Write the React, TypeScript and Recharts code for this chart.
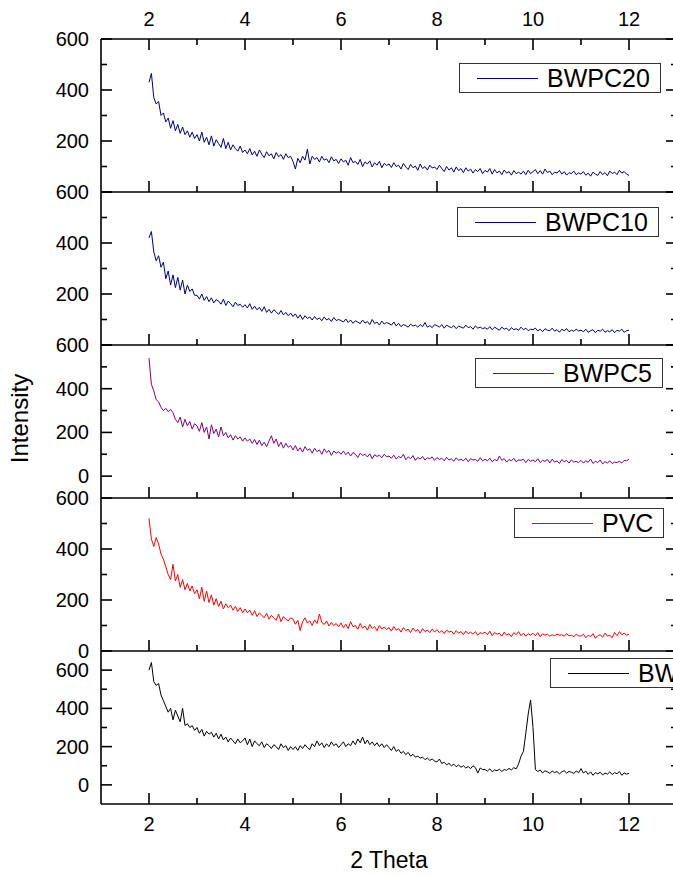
import React from 'react';
import { LineChart, Line, XAxis, YAxis } from 'recharts';

// 2-theta scan positions (deg)
const THETA = [
  2, 2.05, 2.1, 2.15, 2.2, 2.25, 2.3, 2.35, 2.4, 2.45, 2.5, 2.55, 2.6, 2.65, 2.7, 2.75, 2.8, 2.85, 2.9, 2.95,
  3, 3.05, 3.1, 3.15, 3.2, 3.25, 3.3, 3.35, 3.4, 3.45, 3.5, 3.55, 3.6, 3.65, 3.7, 3.75, 3.8, 3.85, 3.9, 3.95,
  4, 4.05, 4.1, 4.15, 4.2, 4.25, 4.3, 4.35, 4.4, 4.45, 4.5, 4.55, 4.6, 4.65, 4.7, 4.75, 4.8, 4.85, 4.9, 4.95,
  5, 5.05, 5.1, 5.15, 5.2, 5.25, 5.3, 5.35, 5.4, 5.45, 5.5, 5.55, 5.6, 5.65, 5.7, 5.75, 5.8, 5.85, 5.9, 5.95,
  6, 6.05, 6.1, 6.15, 6.2, 6.25, 6.3, 6.35, 6.4, 6.45, 6.5, 6.55, 6.6, 6.65, 6.7, 6.75, 6.8, 6.85, 6.9, 6.95,
  7, 7.05, 7.1, 7.15, 7.2, 7.25, 7.3, 7.35, 7.4, 7.45, 7.5, 7.55, 7.6, 7.65, 7.7, 7.75, 7.8, 7.85, 7.9, 7.95,
  8, 8.05, 8.1, 8.15, 8.2, 8.25, 8.3, 8.35, 8.4, 8.45, 8.5, 8.55, 8.6, 8.65, 8.7, 8.75, 8.8, 8.85, 8.9, 8.95,
  9, 9.05, 9.1, 9.15, 9.2, 9.25, 9.3, 9.35, 9.4, 9.45, 9.5, 9.55, 9.6, 9.65, 9.7, 9.75, 9.8, 9.85, 9.9, 9.95,
  10, 10.05, 10.1, 10.15, 10.2, 10.25, 10.3, 10.35, 10.4, 10.45, 10.5, 10.55, 10.6, 10.65, 10.7, 10.75, 10.8, 10.85, 10.9, 10.95,
  11, 11.05, 11.1, 11.15, 11.2, 11.25, 11.3, 11.35, 11.4, 11.45, 11.5, 11.55, 11.6, 11.65, 11.7, 11.75, 11.8, 11.85, 11.9, 11.95,
  12,
];

const BWPC20 = [
  430, 465, 370, 345, 355, 300, 310, 275, 290, 250, 280, 240, 265, 230, 255, 225, 240, 215, 235, 210,
  225, 200, 235, 195, 215, 185, 220, 180, 205, 190, 175, 210, 170, 195, 165, 185, 170, 160, 180, 155,
  165, 150, 170, 145, 160, 140, 165, 148, 135, 158, 142, 150, 130, 155, 138, 147, 128, 150, 135, 140,
  120, 90, 132, 115, 140, 125, 168, 110, 140, 128, 135, 118, 140, 125, 130, 115, 138, 122, 128, 112,
  130, 118, 125, 105, 135, 115, 120, 108, 128, 100, 118, 110, 122, 98, 115, 105, 120, 95, 112, 104,
  110, 96, 115, 100, 105, 90, 112, 98, 88, 108, 95, 102, 85, 110, 92, 100, 86, 105, 94, 98,
  88, 105, 92, 80, 100, 86, 95, 78, 98, 84, 92, 76, 95, 82, 90, 74, 88, 80, 92, 72,
  85, 78, 92, 70, 88, 75, 82, 68, 86, 74, 80, 66, 84, 72, 78, 70, 82, 68, 85, 72,
  80, 88, 72, 84, 70, 90, 76, 82, 68, 78, 74, 85, 70, 80, 66, 76, 72, 82, 68, 75,
  70, 80, 66, 74, 62, 78, 70, 65, 80, 68, 76, 64, 82, 72, 78, 68, 85, 74, 80, 70,
  65,
];

const BWPC10 = [
  420, 445, 365, 330, 350, 305, 325, 260, 290, 235, 275, 225, 265, 215, 255, 200, 235, 210, 220, 195,
  195, 180, 200, 175, 190, 170, 185, 165, 178, 172, 160, 180, 155, 172, 162, 150, 168, 155, 160, 148,
  158, 145, 162, 140, 152, 138, 148, 132, 150, 128, 140, 125, 138, 130, 120, 135, 118, 128, 115, 125,
  112, 122, 105, 118, 100, 115, 104, 110, 98, 112, 100, 106, 95, 110, 98, 104, 92, 108, 96, 100,
  96, 90, 102, 88, 98, 85, 95, 90, 84, 98, 86, 92, 80, 100, 84, 90, 78, 94, 82, 88,
  84, 78, 90, 75, 85, 72, 80, 76, 70, 82, 74, 78, 70, 80, 72, 88, 70, 76, 68, 80,
  76, 70, 80, 66, 78, 72, 68, 76, 64, 74, 70, 66, 78, 68, 72, 62, 75, 66, 70, 64,
  68, 62, 72, 60, 70, 64, 58, 70, 62, 66, 56, 68, 60, 64, 58, 70, 60, 66, 56, 62,
  60, 66, 55, 62, 52, 64, 58, 56, 66, 54, 60, 50, 62, 56, 64, 52, 58, 54, 62, 55,
  58, 52, 62, 50, 56, 60, 48, 58, 54, 62, 50, 56, 52, 60, 48, 58, 54, 62, 50, 56,
  58,
];

const BWPC5 = [
  540, 420, 390, 350, 340, 315, 300, 310, 295, 305, 290, 260, 245, 270, 225, 260, 230, 250, 215, 240,
  230, 205, 245, 200, 225, 170, 235, 195, 215, 180, 225, 185, 200, 175, 190, 165, 185, 170, 180, 160,
  175, 160, 170, 150, 168, 145, 165, 140, 155, 135, 160, 185, 150, 170, 135, 155, 128, 150, 132, 140,
  120, 140, 115, 130, 110, 135, 118, 125, 105, 128, 112, 120, 100, 125, 108, 118, 95, 115, 105, 112,
  100, 115, 98, 110, 92, 108, 100, 85, 105, 95, 100, 88, 102, 80, 98, 90, 96, 84, 100, 88,
  92, 82, 96, 78, 90, 84, 100, 75, 88, 80, 94, 72, 86, 78, 90, 74, 84, 80, 88, 72,
  85, 76, 82, 70, 86, 74, 80, 68, 84, 72, 78, 70, 82, 66, 80, 74, 76, 68, 84, 70,
  78, 70, 82, 66, 76, 70, 92, 72, 80, 64, 76, 70, 82, 66, 74, 72, 78, 62, 76, 68,
  74, 66, 80, 62, 72, 68, 76, 60, 78, 64, 70, 58, 76, 66, 72, 60, 74, 64, 68, 62,
  72, 60, 70, 64, 78, 58, 68, 62, 74, 56, 66, 60, 70, 58, 64, 62, 68, 60, 72, 70,
  78,
];

const PVC = [
  520, 440, 410, 445, 420, 380, 360, 330, 300, 280, 340, 275, 300, 250, 280, 240, 265, 235, 255, 225,
  240, 205, 250, 195, 235, 190, 220, 180, 205, 175, 195, 165, 185, 170, 180, 160, 175, 155, 170, 150,
  165, 150, 160, 140, 158, 135, 150, 140, 130, 148, 125, 140, 130, 120, 145, 115, 135, 125, 118, 130,
  125, 105, 120, 80, 115, 130, 110, 118, 100, 122, 108, 145, 112, 104, 118, 98, 112, 100, 108, 95,
  110, 92, 105, 88, 115, 95, 100, 85, 108, 90, 98, 82, 104, 88, 96, 80, 100, 86, 94, 84,
  92, 78, 96, 82, 88, 74, 92, 80, 86, 72, 90, 78, 84, 70, 88, 76, 82, 72, 86, 74,
  84, 72, 80, 68, 82, 74, 78, 66, 80, 70, 76, 64, 78, 68, 74, 66, 76, 62, 72, 68,
  74, 64, 78, 60, 72, 66, 70, 58, 74, 62, 68, 56, 72, 64, 76, 60, 70, 58, 68, 62,
  70, 60, 72, 56, 68, 62, 66, 58, 64, 60, 66, 62, 64, 58, 68, 60, 62, 56, 66, 60,
  58, 66, 52, 62, 56, 68, 50, 60, 64, 54, 70, 58, 62, 52, 72, 60, 76, 64, 70, 62,
  66,
];

const BW = [
  600, 640, 540, 520, 530, 470, 440, 410, 380, 400, 340, 390, 360, 330, 400, 310, 320, 300, 310, 285,
  300, 270, 290, 255, 280, 265, 275, 250, 270, 240, 265, 235, 250, 225, 245, 230, 215, 240, 220, 230,
  245, 210, 240, 200, 230, 215, 205, 225, 195, 215, 205, 190, 210, 200, 185, 215, 195, 205, 180, 200,
  185, 200, 180, 205, 190, 210, 195, 185, 215, 200, 230, 205, 220, 195, 215, 200, 225, 205, 215, 195,
  210, 225, 200, 215, 205, 230, 210, 240, 220, 250, 215, 235, 210, 225, 205, 220, 200, 215, 195, 210,
  195, 180, 200, 175, 185, 165, 175, 158, 170, 150, 160, 145, 150, 140, 145, 132, 140, 128, 135, 125,
  120, 135, 112, 118, 105, 112, 100, 108, 95, 104, 92, 100, 88, 96, 85, 100, 90, 62, 88, 80,
  80, 72, 84, 68, 78, 74, 82, 70, 80, 76, 86, 78, 90, 84, 110, 150, 175, 270, 370, 444,
  300, 80, 70, 78, 62, 74, 68, 60, 72, 64, 70, 58, 68, 74, 62, 70, 66, 60, 72, 64,
  85, 62, 72, 55, 68, 50, 64, 58, 66, 52, 62, 56, 68, 54, 64, 58, 70, 50, 62, 56,
  60,
];

const X_TICKS = [2, 3, 4, 5, 6, 7, 8, 9, 10, 11, 12];
const Y_TICKS = [0, 100, 200, 300, 400, 500, 600];

const FONT = '"Liberation Sans", Arial, Helvetica, sans-serif';
const PLOT_R = 677; // right frame (just off the picture)
const PANEL_H = 153;
const CHART_W = 700;
const AXIS = { stroke: '#000', strokeWidth: 1.6 };

type Panel = {
  name: string;
  values: number[];
  color: string;
  domain: [number, number];
  labels: number[];
  top: number;
  legend: { left: number; top: number };
};

const PANELS: Panel[] = [
  { name: 'BWPC20', values: BWPC20, color: '#000080', domain: [0, 600], labels: [200, 400, 600], top: 39, legend: { left: 459, top: 63 } },
  { name: 'BWPC10', values: BWPC10, color: '#000080', domain: [0, 600], labels: [200, 400, 600], top: 192, legend: { left: 457, top: 207 } },
  { name: 'BWPC5', values: BWPC5, color: '#800080', domain: [-100, 600], labels: [0, 200, 400, 600], top: 345, legend: { left: 475, top: 358 } },
  { name: 'PVC', values: PVC, color: '#ff0000', domain: [0, 600], labels: [0, 200, 400, 600], top: 498, legend: { left: 514, top: 508 } },
  { name: 'BW', values: BW, color: '#000000', domain: [-100, 700], labels: [0, 200, 400, 600], top: 651, legend: { left: 550, top: 658 } },
];

// inward ticks: major 11px, minor 6px
const xTick = (side: 'top' | 'bottom', showLabel: boolean) => (props: any) => {
  const { x, y, payload } = props;
  const major = payload.value % 2 === 0;
  const len = major ? 11 : 6;
  const dir = side === 'top' ? 1 : -1;
  return (
    <g>
      <line x1={x} x2={x} y1={y} y2={y + dir * len} stroke="#000" strokeWidth={1.6} />
      {showLabel && major && (
        <text x={x} y={side === 'top' ? y - 20 : y + 20} textAnchor="middle" dominantBaseline="central" fontSize={20} fill="#000">
          {payload.value}
        </text>
      )}
    </g>
  );
};

const yTick = (labels: number[]) => (props: any) => {
  const { x, y, payload } = props;
  const major = payload.value % 200 === 0;
  const len = major ? 11 : 6;
  return (
    <g>
      <line x1={x} x2={x + len} y1={y} y2={y} stroke="#000" strokeWidth={1.6} />
      <line x1={PLOT_R - len} x2={PLOT_R} y1={y} y2={y} stroke="#000" strokeWidth={1.6} />
      {labels.includes(payload.value) && (
        <text x={x - 12} y={y} textAnchor="end" dominantBaseline="central" fontSize={20} fill="#000">
          {payload.value}
        </text>
      )}
    </g>
  );
};

const intensityLabel = (props: any) => {
  const vb = props.viewBox;
  const cy = vb.y + vb.height / 2 - 3;
  return (
    <text x={28} y={cy} transform={`rotate(-90 28 ${cy})`} textAnchor="middle" fontSize={24} fill="#000">
      Intensity
    </text>
  );
};

const PanelChart = ({ panel, index }: { panel: Panel; index: number }) => {
  const first = index === 0;
  const last = index === PANELS.length - 1;
  const topSpace = first ? 39 : 16;
  const bottomSpace = last ? 70 : 16;
  const data = THETA.map((t, i) => ({ theta: t, v: panel.values[i] }));
  return (
    <div style={{ position: 'absolute', left: 0, top: panel.top - topSpace }}>
      <LineChart
        width={CHART_W}
        height={topSpace + PANEL_H + bottomSpace}
        data={data}
        margin={{ top: first ? 0 : 16, right: CHART_W - PLOT_R, bottom: 0, left: 0 }}
      >
        <XAxis
          xAxisId="b"
          type="number"
          dataKey="theta"
          domain={[1, 13]}
          allowDataOverflow
          ticks={X_TICKS}
          interval={0}
          height={bottomSpace}
          tickSize={0}
          tickMargin={0}
          tickLine={false}
          axisLine={AXIS}
          tick={xTick('bottom', last)}
          label={last ? { value: '2 Theta', position: 'insideBottom', offset: 6, fontSize: 23, fill: '#000' } : undefined}
        />
        {first && (
          <XAxis
            xAxisId="t"
            orientation="top"
            type="number"
            dataKey="theta"
            domain={[1, 13]}
            allowDataOverflow
            ticks={X_TICKS}
            interval={0}
            height={39}
            tickSize={0}
            tickMargin={0}
            tickLine={false}
            axisLine={AXIS}
            tick={xTick('top', true)}
          />
        )}
        <YAxis
          type="number"
          domain={panel.domain}
          allowDataOverflow
          ticks={Y_TICKS}
          interval={0}
          width={101}
          tickSize={0}
          tickMargin={0}
          tickLine={false}
          axisLine={AXIS}
          tick={yTick(panel.labels)}
          label={index === 2 ? { value: 'Intensity', content: intensityLabel } : undefined}
        />
        <Line
          xAxisId="b"
          type="linear"
          dataKey="v"
          stroke={panel.color}
          strokeWidth={1}
          dot={false}
          isAnimationActive={false}
        />
      </LineChart>
    </div>
  );
};

const LegendBox = ({ panel }: { panel: Panel }) => (
  <div
    style={{
      position: 'absolute',
      left: panel.legend.left,
      top: panel.legend.top,
      height: 30,
      boxSizing: 'border-box',
      border: '1px solid #333',
      background: '#fff',
      display: 'flex',
      alignItems: 'center',
      paddingLeft: 17,
      paddingRight: 10,
      whiteSpace: 'nowrap',
    }}
  >
    <span style={{ display: 'inline-block', width: 61, borderTop: `1px solid ${panel.color}`, marginRight: 9 }} />
    <span style={{ fontSize: 25, lineHeight: '30px' }}>{panel.name}</span>
  </div>
);

export default function App() {
  return (
    <div
      style={{
        position: 'absolute',
        left: 0,
        top: 0,
        width: 673,
        height: 874,
        overflow: 'hidden',
        background: '#fff',
        fontFamily: FONT,
        color: '#000',
      }}
    >
      {PANELS.map((p, i) => (
        <PanelChart key={p.name} panel={p} index={i} />
      ))}
      {PANELS.map((p) => (
        <LegendBox key={p.name + '-legend'} panel={p} />
      ))}
    </div>
  );
}
